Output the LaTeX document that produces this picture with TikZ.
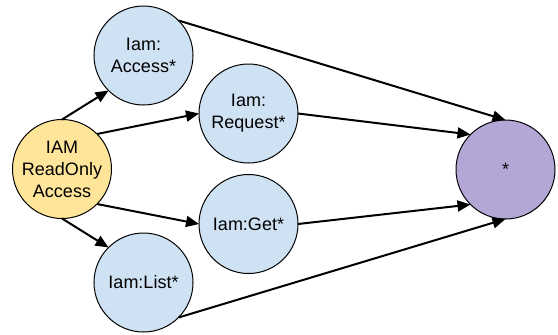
\documentclass[tikz,border=0pt]{standalone}
\usepackage{fontspec}
\setmainfont{Liberation Sans}
\usetikzlibrary{arrows.meta}
\definecolor{lblue}{HTML}{CFE2F3}
\definecolor{lyellow}{HTML}{FFE599}
\definecolor{lpurple}{HTML}{B4A7D6}
\begin{document}
\begin{tikzpicture}[x=1pt,y=-1pt,
  circ/.style={circle, draw=black, line width=1pt, minimum size=99pt, inner sep=0pt, outer sep=0pt,
    align=center, font=\fontsize{18}{22}\selectfont},
  conn/.style={line width=2pt, -{Triangle[length=13pt,width=11pt]}}]
\useasboundingbox (0,0) rectangle (558,335);
\node[circ, fill=lyellow] (iam) at (62,169) {IAM\\ReadOnly\\Access};
\node[circ, fill=lblue] (acc) at (143.5,55.5) {Iam:\\Access*};
\node[circ, fill=lblue] (req) at (248.5,113.5) {Iam:\\Request*};
\node[circ, fill=lblue] (get) at (248.5,224) {Iam:Get*};
\node[circ, fill=lblue] (lst) at (143.5,282.5) {Iam:List*};
\node[circ, fill=lpurple] (all) at (505.5,169.5) {*};
\draw[conn] (iam.90) -- (acc.225);
\draw[conn] (iam.45) -- (req.180);
\draw[conn] (iam.-45) -- (get.180);
\draw[conn] (iam.-90) -- (lst.135);
\draw[conn] (acc.45) -- (all.90);
\draw[conn] (req.0) -- (all.135);
\draw[conn] (get.0) -- (all.225);
\draw[conn] (lst.-45) -- (all.-90);
\end{tikzpicture}
\end{document}
